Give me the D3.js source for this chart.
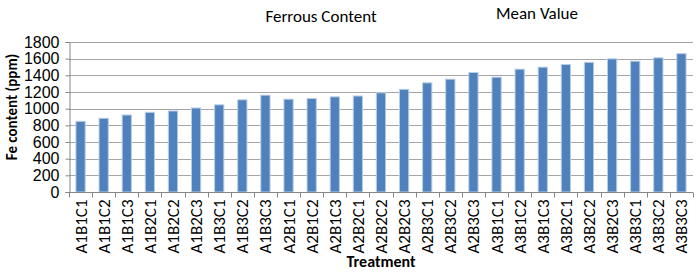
<!DOCTYPE html>
<html>
<head>
<meta charset="utf-8">
<script src="https://cdn.jsdelivr.net/npm/d3@7"></script>
<style>
  body { margin: 0; background: #fff; }
  svg { font-family: Carlito, "Open Sans", "Liberation Sans", sans-serif; }
</style>
</head>
<body>
<div id="chart"></div>
<script>
// treatments along the x axis
const treatments = [
  "A1B1C1","A1B1C2","A1B1C3","A1B2C1","A1B2C2","A1B2C3","A1B3C1","A1B3C2","A1B3C3",
  "A2B1C1","A2B1C2","A2B1C3","A2B2C1","A2B2C2","A2B2C3","A2B3C1","A2B3C2","A2B3C3",
  "A3B1C1","A3B1C2","A3B1C3","A3B2C1","A3B2C2","A3B2C3","A3B3C1","A3B3C2","A3B3C3"
];
// mean Fe content (ppm)
const feValues = [
  848, 885, 924, 956, 972, 1008, 1046, 1106, 1162,
  1114, 1122, 1142, 1152, 1190, 1232, 1310, 1354, 1434,
  1378, 1474, 1498, 1530, 1556, 1598, 1570, 1610, 1660
];
const yTicks = [0, 200, 400, 600, 800, 1000, 1200, 1400, 1600, 1800];

const width = 700, height = 273;
const margin = { top: 42, right: 7, bottom: 81, left: 69 };

const svg = d3.select("#chart").append("svg")
  .attr("width", width)
  .attr("height", height);

const x = d3.scaleBand()
  .domain(treatments)
  .range([margin.left, width - margin.right])
  .paddingInner(0.6)
  .paddingOuter(0.3);

const y = d3.scaleLinear()
  .domain([0, 1800])
  .range([height - margin.bottom, margin.top]);

// gridlines
svg.append("g")
  .selectAll("line")
  .data(yTicks.slice(1))
  .enter()
  .append("line")
  .attr("x1", margin.left)
  .attr("x2", width - margin.right)
  .attr("y1", d => Math.round(y(d)) + 0.5)
  .attr("y2", d => Math.round(y(d)) + 0.5)
  .attr("stroke", "#a6a6a6")
  .attr("stroke-width", 1);

// bars
svg.append("g")
  .selectAll("rect")
  .data(treatments)
  .enter()
  .append("rect")
  .attr("x", d => x(d))
  .attr("y", (d, i) => y(feValues[i]))
  .attr("width", x.bandwidth())
  .attr("height", (d, i) => y(0) - y(feValues[i]))
  .attr("fill", "#4f81bd")
  .attr("stroke", "#b9cde5")
  .attr("stroke-width", 1);

// y axis
const yAxis = svg.append("g")
  .attr("transform", `translate(${margin.left + 0.5},0)`)
  .call(d3.axisLeft(y).tickValues(yTicks).tickFormat(d3.format("d")).tickSize(4).tickPadding(6));
yAxis.select(".domain").attr("stroke", "#868686");
yAxis.selectAll(".tick line").attr("stroke", "#868686");
yAxis.selectAll(".tick text")
  .attr("font-size", 16)
  .attr("fill", "#000");

// x axis line + boundary ticks
const y0 = Math.round(y(0)) + 0.5;
svg.append("line")
  .attr("x1", margin.left)
  .attr("x2", width - margin.right)
  .attr("y1", y0).attr("y2", y0)
  .attr("stroke", "#868686");

const boundaries = d3.range(treatments.length + 1).map(i => margin.left + i * (width - margin.left - margin.right) / treatments.length);
svg.append("g")
  .selectAll("line")
  .data(boundaries)
  .enter()
  .append("line")
  .attr("x1", d => Math.round(d) + 0.5)
  .attr("x2", d => Math.round(d) + 0.5)
  .attr("y1", y0)
  .attr("y2", y0 + 5)
  .attr("stroke", "#868686");

// x labels (rotated)
svg.append("g")
  .selectAll("text")
  .data(treatments)
  .enter()
  .append("text")
  .attr("transform", d => `translate(${x(d) + x.bandwidth() / 2 + 6},${y0 + 7}) rotate(-90)`)
  .attr("text-anchor", "end")
  .attr("font-size", 17)
  .text(d => d);

// axis titles
svg.append("text")
  .attr("x", 381)
  .attr("y", 267)
  .attr("text-anchor", "middle")
  .attr("font-size", 16)
  .attr("font-weight", "bold")
  .text("Treatment");

svg.append("text")
  .attr("transform", "translate(17,107) rotate(-90)")
  .attr("text-anchor", "middle")
  .attr("font-size", 15)
  .attr("font-weight", "bold")
  .text("Fe content (ppm)");

// chart titles
svg.append("text")
  .attr("x", 321)
  .attr("y", 22)
  .attr("text-anchor", "middle")
  .attr("font-size", 17)
  .text("Ferrous Content");

svg.append("text")
  .attr("x", 537)
  .attr("y", 19)
  .attr("text-anchor", "middle")
  .attr("font-size", 17)
  .text("Mean Value");
</script>
</body>
</html>
